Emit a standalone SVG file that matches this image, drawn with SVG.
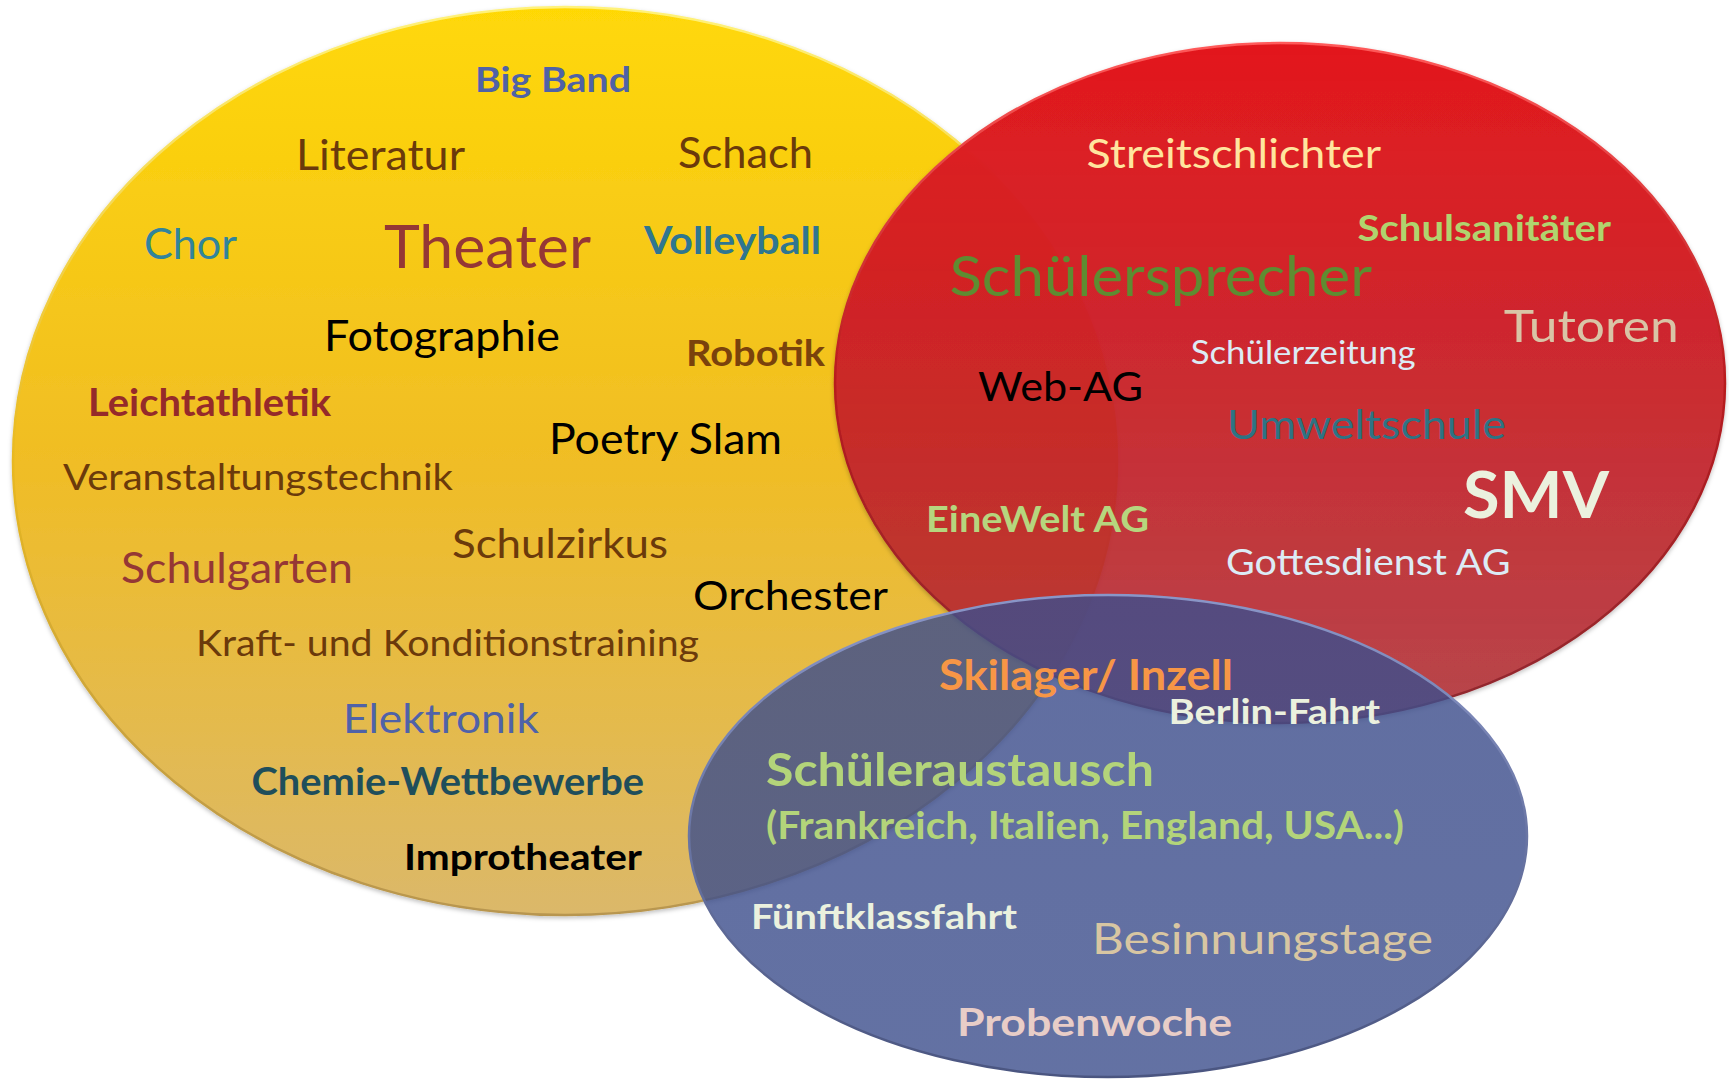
<svg xmlns="http://www.w3.org/2000/svg" width="1729" height="1079" viewBox="0 0 1729 1079">
<defs>
<linearGradient id="gY" x1="0" y1="0" x2="0" y2="1">
<stop offset="0" stop-color="#FFD806"/>
<stop offset="0.5" stop-color="#F0BD25"/>
<stop offset="1" stop-color="#DBB86A"/>
</linearGradient>
<linearGradient id="gR" x1="0" y1="0" x2="0" y2="1">
<stop offset="0" stop-color="#E3181C" stop-opacity="1"/>
<stop offset="0.45" stop-color="#CC2027" stop-opacity="0.95"/>
<stop offset="1" stop-color="#B02E35" stop-opacity="0.85"/>
</linearGradient>
<linearGradient id="gB" x1="0" y1="0" x2="0" y2="1">
<stop offset="0" stop-color="#3E4E8C" stop-opacity="0.82"/>
<stop offset="1" stop-color="#3C4E8C" stop-opacity="0.8"/>
</linearGradient>
<linearGradient id="sY" x1="0" y1="0" x2="0" y2="1">
<stop offset="0" stop-color="#FFF27A"/>
<stop offset="0.5" stop-color="#E8B820"/>
<stop offset="1" stop-color="#B89650"/>
</linearGradient>
<linearGradient id="sR" x1="0" y1="0" x2="0" y2="1">
<stop offset="0" stop-color="#FF5A5A"/>
<stop offset="0.5" stop-color="#B81A1E"/>
<stop offset="1" stop-color="#8E2A30"/>
</linearGradient>
<linearGradient id="sB" x1="0" y1="0" x2="0" y2="1">
<stop offset="0" stop-color="#8A96C8"/>
<stop offset="1" stop-color="#4A5580"/>
</linearGradient>
<filter id="sh" x="-5%" y="-5%" width="110%" height="112%">
<feDropShadow dx="0" dy="2" stdDeviation="2" flood-color="#000" flood-opacity="0.25"/>
</filter>
<style>
text { font-family: Lato, "Open Sans", "Liberation Sans", sans-serif; }
.b { font-weight: bold; }
</style>
</defs>

<g id="set-yellow">
<ellipse cx="565" cy="461" rx="552" ry="454" fill="url(#gY)" stroke="url(#sY)" stroke-width="2.5" filter="url(#sh)"/>
</g>
<g id="set-red">
<ellipse cx="1280" cy="383" rx="445" ry="340" fill="url(#gR)" stroke="url(#sR)" stroke-width="2.5" filter="url(#sh)"/>
</g>
<g id="set-blue">
<ellipse cx="1108" cy="836" rx="419" ry="241" fill="url(#gB)" stroke="url(#sB)" stroke-width="2.5"/>
</g>

<g id="labels-yellow">
<g id="n-bigband"><text class="b" x="475" y="92" font-size="33.5" fill="#4F62A6" textLength="156" lengthAdjust="spacingAndGlyphs">Big Band</text></g>
<g id="n-literatur"><text x="296" y="170" font-size="43.3" fill="#6B3A0B" textLength="169" lengthAdjust="spacingAndGlyphs">Literatur</text></g>
<g id="n-schach"><text x="678" y="168" font-size="43.3" fill="#6B3A0B" textLength="135" lengthAdjust="spacingAndGlyphs">Schach</text></g>
<g id="n-chor"><text x="144" y="259" font-size="43.3" fill="#31849B" textLength="93" lengthAdjust="spacingAndGlyphs">Chor</text></g>
<g id="n-theater"><text x="384" y="268" font-size="60" fill="#953735" textLength="207" lengthAdjust="spacingAndGlyphs">Theater</text></g>
<g id="n-volleyball"><text class="b" x="644" y="253.5" font-size="38.4" fill="#2F7690" textLength="177" lengthAdjust="spacingAndGlyphs">Volleyball</text></g>
<g id="n-fotographie"><text x="324" y="351" font-size="43.3" fill="#000000" textLength="236" lengthAdjust="spacingAndGlyphs">Fotographie</text></g>
<g id="n-robotik"><text class="b" x="686" y="365.5" font-size="35.9" fill="#7A420C" textLength="139" lengthAdjust="spacingAndGlyphs">Robotik</text></g>
<g id="n-leichtathletik"><text class="b" x="88" y="416" font-size="37.7" fill="#952A2A" textLength="243" lengthAdjust="spacingAndGlyphs">Leichtathletik</text></g>
<g id="n-poetryslam"><text x="549" y="454" font-size="41.9" fill="#000000" textLength="233" lengthAdjust="spacingAndGlyphs">Poetry Slam</text></g>
<g id="n-veranstaltungstechnik"><text x="63" y="490" font-size="36.3" fill="#6B3A0B" textLength="390" lengthAdjust="spacingAndGlyphs">Veranstaltungstechnik</text></g>
<g id="n-schulzirkus"><text x="452" y="558" font-size="41.2" fill="#6B3A0B" textLength="216" lengthAdjust="spacingAndGlyphs">Schulzirkus</text></g>
<g id="n-schulgarten"><text x="121" y="583" font-size="41.9" fill="#953735" textLength="232" lengthAdjust="spacingAndGlyphs">Schulgarten</text></g>
<g id="n-orchester"><text x="693" y="609.5" font-size="41.2" fill="#000000" textLength="195" lengthAdjust="spacingAndGlyphs">Orchester</text></g>
<g id="n-kraft"><text x="196" y="655.5" font-size="36.3" fill="#6B3A0B" textLength="503" lengthAdjust="spacingAndGlyphs">Kraft- und Konditionstraining</text></g>
<g id="n-elektronik"><text x="343" y="732.6" font-size="41.2" fill="#4F62A8" textLength="196" lengthAdjust="spacingAndGlyphs">Elektronik</text></g>
<g id="n-chemie"><text class="b" x="251.5" y="795" font-size="37.7" fill="#1F4E5B" textLength="392.5" lengthAdjust="spacingAndGlyphs">Chemie-Wettbewerbe</text></g>
<g id="n-improtheater"><text class="b" x="404" y="870" font-size="36.3" fill="#000000" textLength="238" lengthAdjust="spacingAndGlyphs">Improtheater</text></g>
</g>

<g id="labels-red">
<g id="n-streitschlichter"><text x="1086.5" y="168" font-size="41.2" fill="#FFE59E" textLength="294.5" lengthAdjust="spacingAndGlyphs">Streitschlichter</text></g>
<g id="n-schulsanitaeter"><text class="b" x="1357.5" y="240.6" font-size="35.9" fill="#B0D46E" textLength="253.5" lengthAdjust="spacingAndGlyphs">Schulsanitäter</text></g>
<g id="n-schuelersprecher"><text x="949.5" y="296" font-size="55.8" fill="#5E8C31" textLength="422.5" lengthAdjust="spacingAndGlyphs">Schülersprecher</text></g>
<g id="n-tutoren"><text x="1503.7" y="341.7" font-size="44.7" fill="#D9C4A6" textLength="175" lengthAdjust="spacingAndGlyphs">Tutoren</text></g>
<g id="n-schuelerzeitung"><text x="1190.7" y="364.4" font-size="32.8" fill="#DCEBF5" textLength="225" lengthAdjust="spacingAndGlyphs">Schülerzeitung</text></g>
<g id="n-webag"><text x="978" y="400.5" font-size="41.2" fill="#000000" textLength="165" lengthAdjust="spacingAndGlyphs">Web-AG</text></g>
<g id="n-umweltschule"><text x="1227" y="439" font-size="41" fill="#2E7384" textLength="279" lengthAdjust="spacingAndGlyphs">Umweltschule</text></g>
<g id="n-smv"><text class="b" x="1463" y="518" font-size="64.2" fill="#EBF1DE" textLength="146" lengthAdjust="spacingAndGlyphs">SMV</text></g>
<g id="n-einewelt"><text class="b" x="926" y="532" font-size="36.3" fill="#B6D67E" textLength="223" lengthAdjust="spacingAndGlyphs">EineWelt AG</text></g>
<g id="n-gottesdienst"><text x="1226" y="575.4" font-size="37" fill="#DCEBF5" textLength="284.6" lengthAdjust="spacingAndGlyphs">Gottesdienst AG</text></g>
</g>

<g id="labels-blue">
<g id="n-skilager"><text class="b" x="939" y="690" font-size="41.2" fill="#F79646" textLength="294" lengthAdjust="spacingAndGlyphs">Skilager/ Inzell</text></g>
<g id="n-berlin"><text class="b" x="1168.6" y="724" font-size="34.3" fill="#EBF1DE" textLength="211.4" lengthAdjust="spacingAndGlyphs">Berlin-Fahrt</text></g>
<g id="n-schueleraustausch">
<text class="b" x="766" y="786" font-size="46" fill="#B3D47A" textLength="388" lengthAdjust="spacingAndGlyphs">Schüleraustausch</text>
<text class="b" x="766" y="839" font-size="38.4" fill="#B3D47A" textLength="638" lengthAdjust="spacingAndGlyphs">(Frankreich, Italien, England, USA...)</text>
</g>
<g id="n-fuenftklassfahrt"><text class="b" x="751" y="929" font-size="34.9" fill="#EBF1DE" textLength="266" lengthAdjust="spacingAndGlyphs">Fünftklassfahrt</text></g>
<g id="n-besinnungstage"><text x="1092" y="954" font-size="42.6" fill="#D8C6A2" textLength="341" lengthAdjust="spacingAndGlyphs">Besinnungstage</text></g>
<g id="n-probenwoche"><text class="b" x="957" y="1036.4" font-size="37.7" fill="#E8CDC7" textLength="275" lengthAdjust="spacingAndGlyphs">Probenwoche</text></g>
</g>
</svg>
